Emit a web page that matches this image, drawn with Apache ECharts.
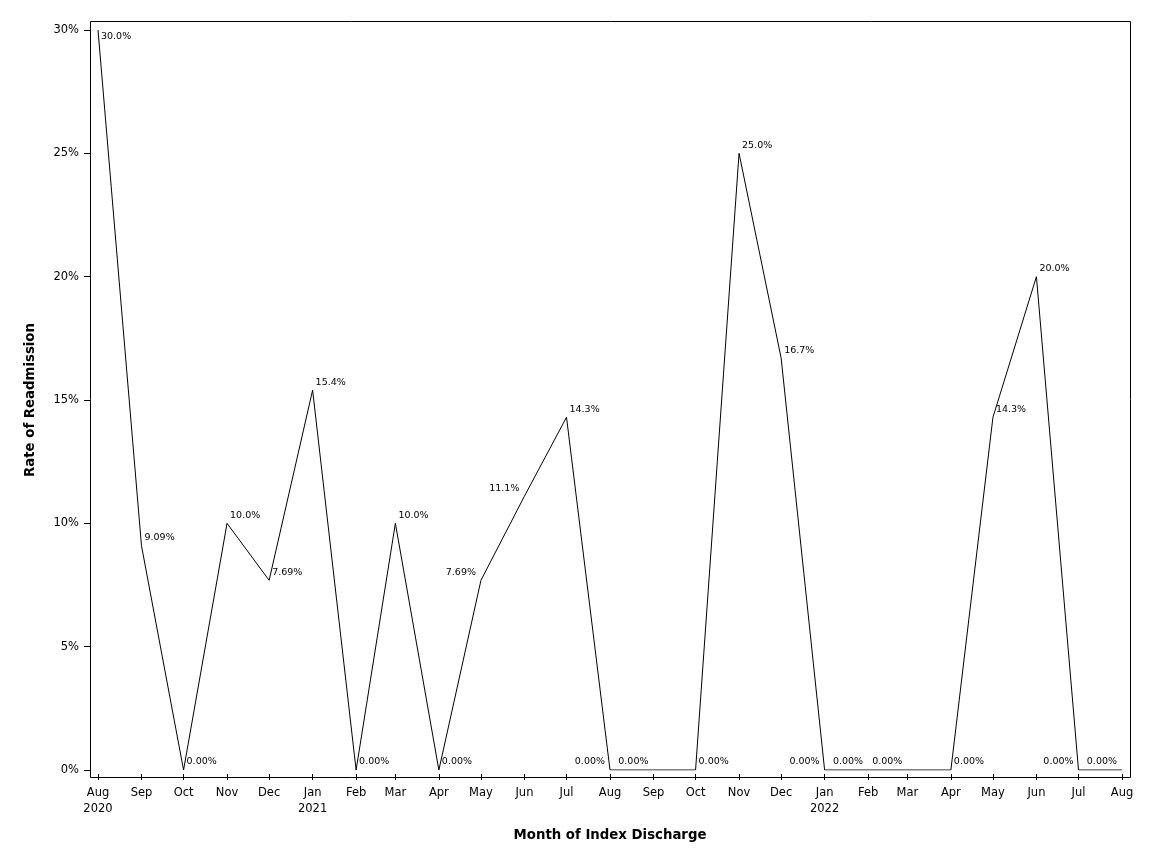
<!DOCTYPE html>
<html>
<head>
<meta charset="utf-8">
<title>Rate of Readmission</title>
<script src="https://cdn.jsdelivr.net/npm/echarts@6/dist/echarts.min.js"></script>
<style>
html, body { margin: 0; padding: 0; background: #fff; }
#readmitChart { width: 1152px; height: 864px; }
</style>
</head>
<body>
<div id="readmitChart"></div>
<script>
var myChart;
var fontName = 'DejaVu Sans, Verdana, sans-serif';

// month of index discharge
var months = ['2020-08-01', '2020-09-01', '2020-10-01', '2020-11-01', '2020-12-01',
	'2021-01-01', '2021-02-01', '2021-03-01', '2021-04-01', '2021-05-01', '2021-06-01',
	'2021-07-01', '2021-08-01', '2021-09-01', '2021-10-01', '2021-11-01', '2021-12-01',
	'2022-01-01', '2022-02-01', '2022-03-01', '2022-04-01', '2022-05-01', '2022-06-01',
	'2022-07-01', '2022-08-01'];
// rate of readmission (%)
var rates = [30.0, 9.09, 0, 10.0, 7.69,
	15.4, 0, 10.0, 0, 7.69, 11.1,
	14.3, 0, 0, 0, 25.0, 16.7,
	0, 0, 0, 0, 14.3, 20.0,
	0, 0];
// tick labels
var monthNames = ['Jan', 'Feb', 'Mar', 'Apr', 'May', 'Jun', 'Jul', 'Aug', 'Sep', 'Oct', 'Nov', 'Dec'];
var yTicks = [0, 5, 10, 15, 20, 25, 30];

// points whose label sits on the left side
var leftLabelIdx = [9, 10, 12, 13, 17, 18, 19, 23, 24];

window.onload = function() {
	chartInit();
	chartSetting();
};

function chartInit() {
	myChart = echarts.init(document.getElementById('readmitChart'), null, { renderer: 'canvas' });
}

function buildData() {
	var data = [];
	for (var i = 0; i < months.length; i++) {
		var item = { value: [months[i], rates[i]] };
		if (i == 0) {
			item.label = { position: 'right', offset: [0, 7] };
		} else if (leftLabelIdx.indexOf(i) >= 0) {
			item.label = { position: 'left', distance: 5, offset: [0, -8] };
		}
		data.push(item);
	}
	return data;
}

// time axis shared settings
function timeAxis(gridIndex, visible) {
	var firstTime = echarts.time.parse(months[0]).getTime();
	var axis = {
		type: 'time',
		gridIndex: gridIndex,
		min: months[0],
		max: months[months.length - 1],
		minInterval: 32 * 86400000,
		maxInterval: 32 * 86400000,
		show: visible
	};
	if (visible) {
		axis.name = 'Month of Index Discharge';
		axis.nameLocation = 'middle';
		axis.nameGap = 55;
		axis.nameTextStyle = { fontFamily: fontName, fontSize: 13.3, fontWeight: 'bold', color: '#000' };
		axis.axisLine = { show: false };
		axis.axisTick = { show: true, length: 6, lineStyle: { color: '#000' } };
		axis.splitLine = { show: false };
		axis.axisLabel = {
			fontFamily: fontName,
			fontSize: 11.5,
			color: '#000',
			margin: 11,
			lineHeight: 16,
			formatter: function(value) {
				var d = new Date(value);
				var m = monthNames[d.getMonth()];
				if (d.getMonth() == 0 || value == firstTime) {
					return m + '\n' + d.getFullYear();
				}
				return m;
			}
		};
	}
	return axis;
}

// value axis shared settings
function rateAxis(gridIndex, visible) {
	var axis = {
		type: 'value',
		gridIndex: gridIndex,
		min: yTicks[0],
		max: yTicks[yTicks.length - 1],
		interval: yTicks[1] - yTicks[0],
		show: visible
	};
	if (visible) {
		axis.name = 'Rate of Readmission';
		axis.nameLocation = 'middle';
		axis.nameGap = 53;
		axis.nameTextStyle = { fontFamily: fontName, fontSize: 13.3, fontWeight: 'bold', color: '#000' };
		axis.axisLine = { show: false };
		axis.axisTick = { show: true, length: 6, lineStyle: { color: '#000' } };
		axis.splitLine = { show: false };
		axis.axisLabel = {
			fontFamily: fontName,
			fontSize: 11.5,
			color: '#000',
			margin: 11,
			formatter: '{value}%'
		};
	}
	return axis;
}

function chartSetting() {
	var option = {
		animation: false,
		backgroundColor: '#fff',
		textStyle: { fontFamily: fontName, color: '#000' },
		// 0: plot area, 1: x ticks below the frame, 2: y ticks left of the frame
		grid: [
			{ left: 98, right: 30, top: 30, bottom: 94 },
			{ left: 98, right: 30, top: 30, bottom: 90 },
			{ left: 90, right: 30, top: 30, bottom: 94 }
		],
		graphic: [{
			type: 'rect',
			shape: { x: 90.5, y: 21.5, width: 1040, height: 756 },
			style: { fill: null, stroke: '#000', lineWidth: 1 },
			z: 10
		}],
		xAxis: [timeAxis(0, false), timeAxis(1, true), timeAxis(2, false)],
		yAxis: [rateAxis(0, false), rateAxis(1, false), rateAxis(2, true)],
		series: [{
			type: 'line',
			xAxisIndex: 0,
			yAxisIndex: 0,
			symbol: 'circle',
			symbolSize: 0,
			showSymbol: true,
			lineStyle: { color: '#000', width: 1 },
			itemStyle: { color: '#000' },
			label: {
				show: true,
				position: 'right',
				distance: 3,
				offset: [0, -8],
				fontFamily: fontName,
				fontSize: 9.5,
				color: '#000',
				formatter: function(p) {
					return p.value[1].toPrecision(3) + '%';
				}
			},
			data: buildData()
		}]
	};
	myChart.setOption(option);
}
</script>
</body>
</html>
